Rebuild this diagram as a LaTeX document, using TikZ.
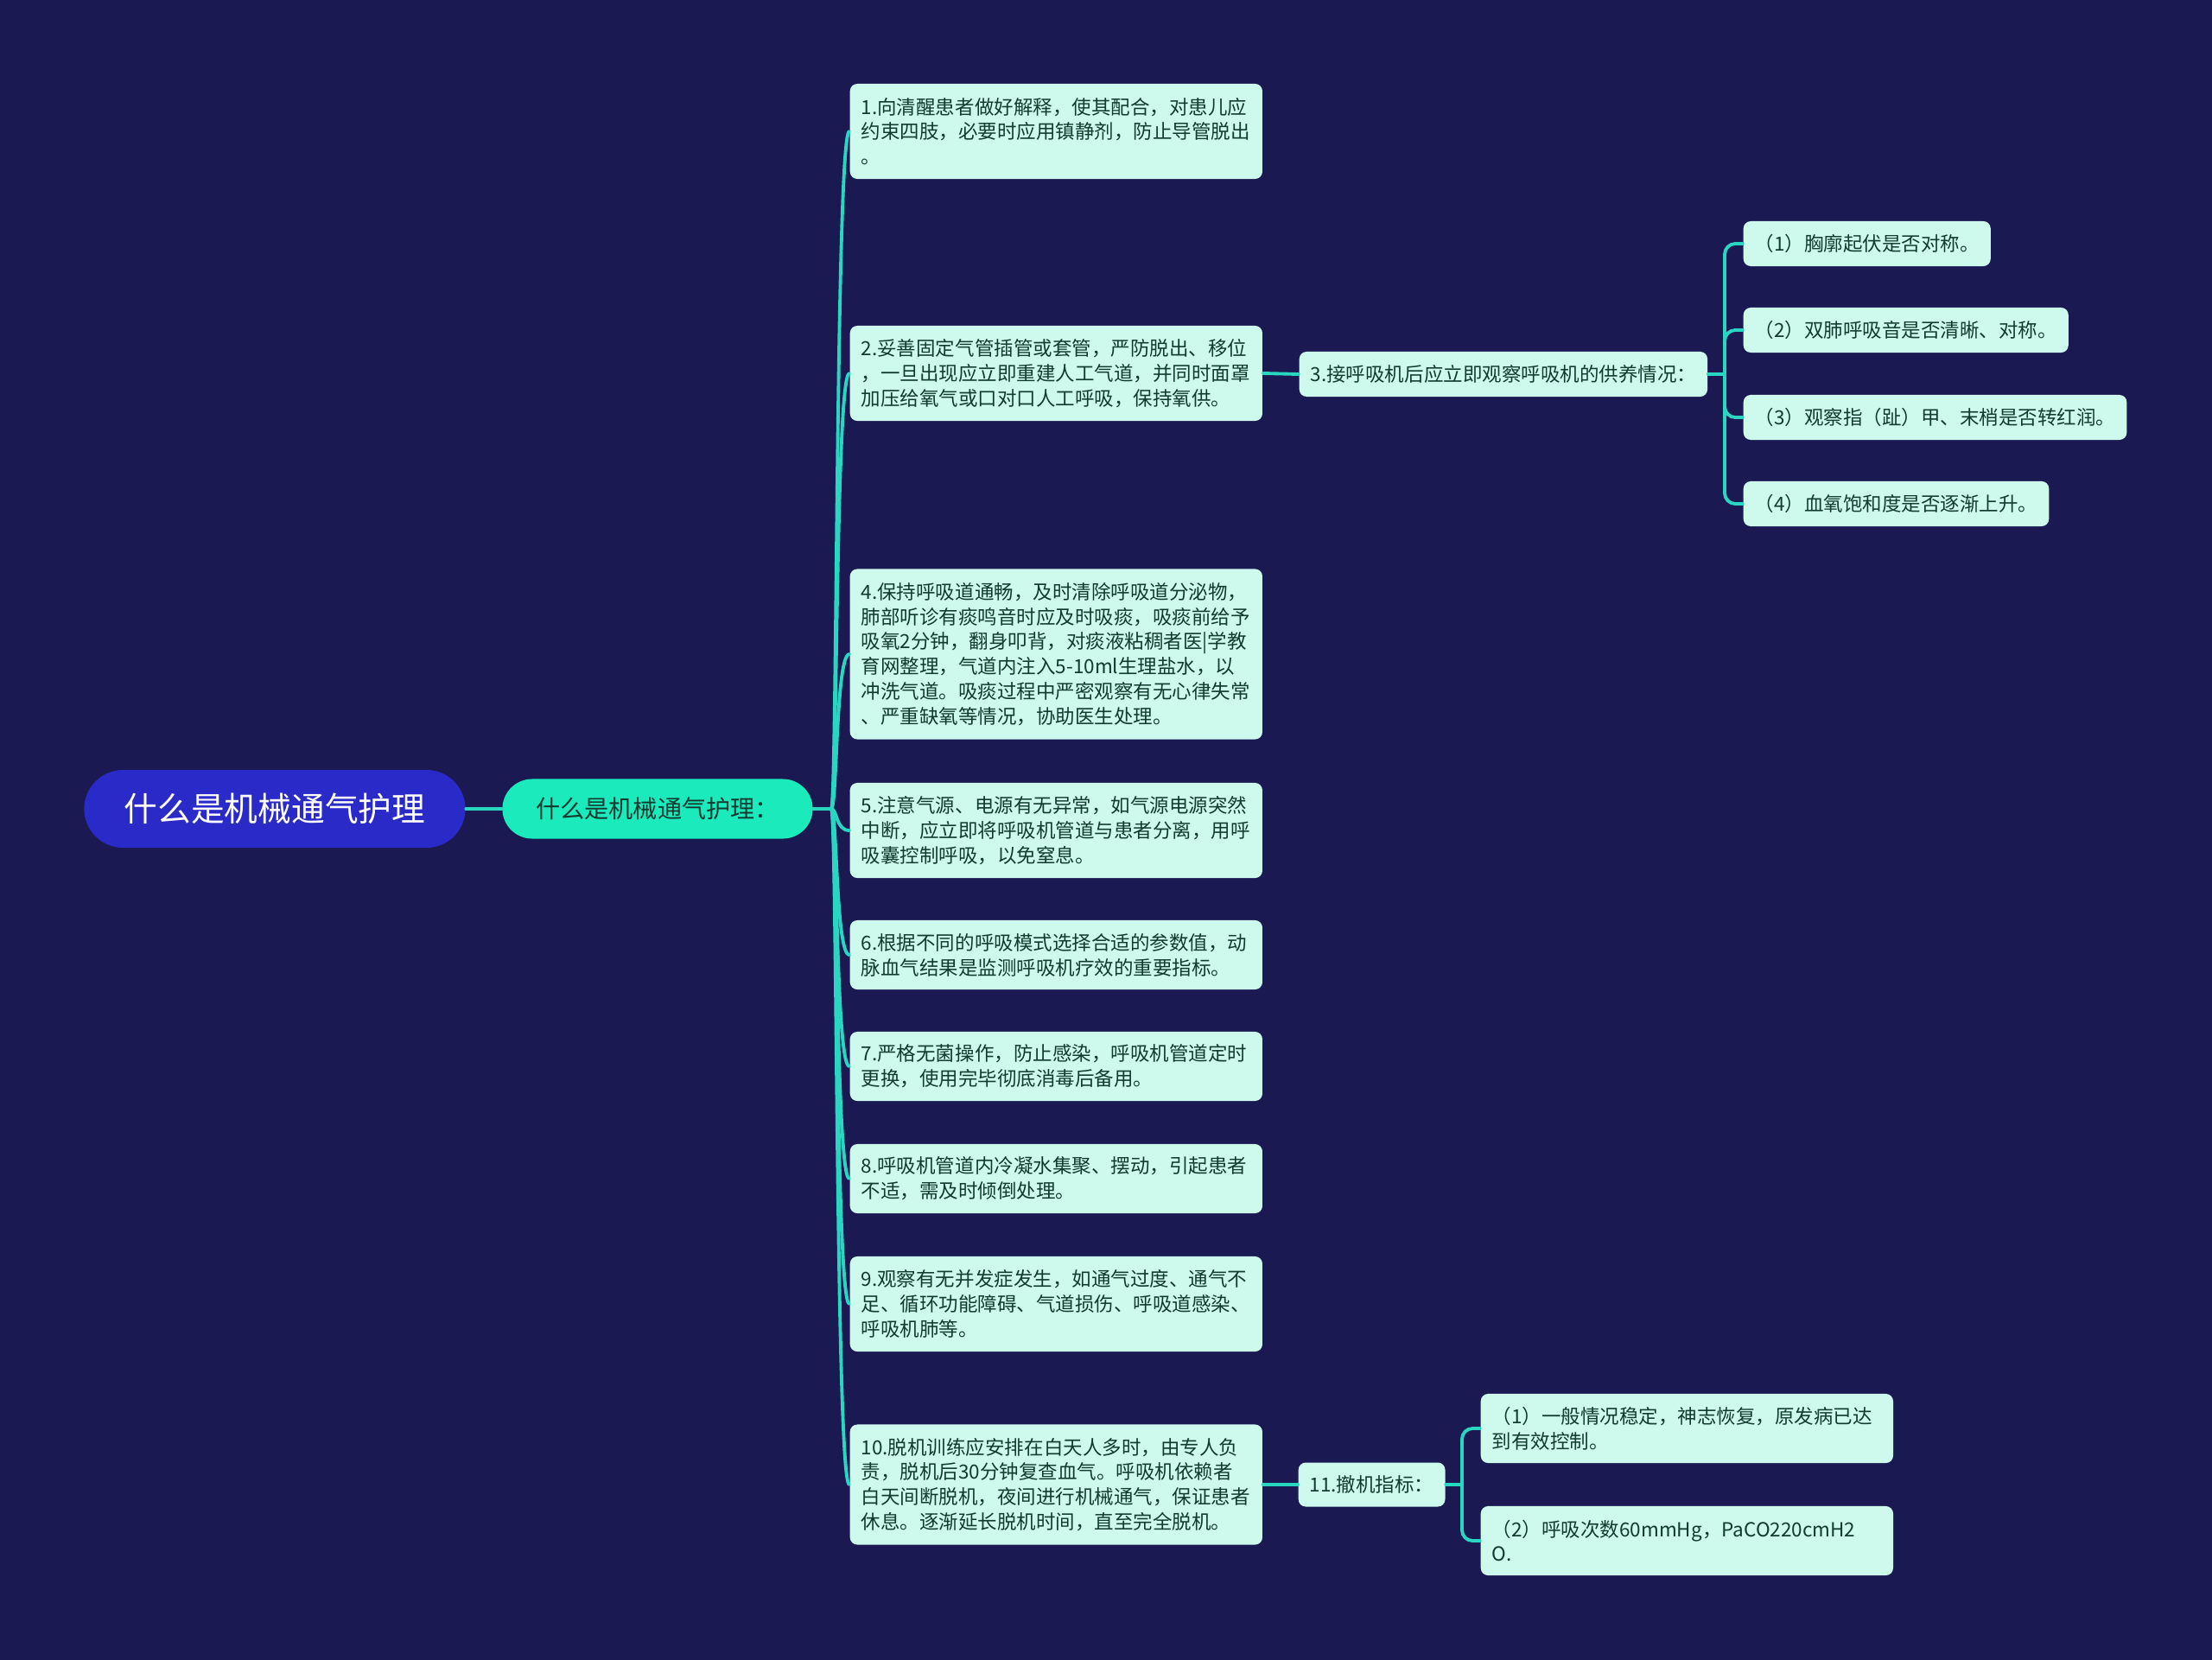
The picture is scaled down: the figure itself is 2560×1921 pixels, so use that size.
\documentclass[tikz,border=0pt]{standalone}
\usepackage{fontspec}
\setmainfont{Noto Sans CJK SC}

\definecolor{bgnavy}{RGB}{27,25,82}
\definecolor{rootblue}{RGB}{42,42,200}
\definecolor{mainteal}{RGB}{26,234,188}
\definecolor{leaffill}{RGB}{206,250,238}
\definecolor{leaftext}{RGB}{18,58,47}
\definecolor{linkteal}{RGB}{40,214,194}

\begin{document}
\begin{tikzpicture}[
  x=0.01cm,
  y=-0.01cm,
  line cap=round,
  line join=round,
  link/.style={draw=linkteal,line width=1.1pt},
  leafbox/.style={
    fill=leaffill,
    text=leaftext,
    rounded corners=2.4pt,
    font=\fontsize{6.4}{8.2}\selectfont,
    align=left,
    inner xsep=0.13cm,
    inner ysep=0pt,
    anchor=west
  },
  widebox/.style={leafbox,text width=4.51cm}
]
  % Фон
  \fill[bgnavy] (0,0) rectangle (2560,1921);
  \useasboundingbox (0,0) rectangle (2560,1921);

  % Корень
  \node[
    fill=rootblue,
    text=white,
    rounded corners=0.45cm,
    minimum width=4.41cm,
    minimum height=0.90cm,
    font=\fontsize{11}{13}\selectfont
  ] (root) at (318,936) {什么是机械通气护理};

  \node[
    fill=mainteal,
    text=leaftext,
    rounded corners=0.345cm,
    minimum width=3.59cm,
    minimum height=0.69cm,
    font=\fontsize{8}{10}\selectfont
  ] (care) at (761,936) {什么是机械通气护理：};

  \draw[link] (root.east) -- (care.west);
  \coordinate (hub) at (962,936);
  \draw[link] (care.east) -- (hub);

  % Пункты 1--10
  \node[widebox,minimum height=1.10cm] (p1) at (983,152) {%
    1.向清醒患者做好解释，使其配合，对患儿应\\
    约束四肢，必要时应用镇静剂，防止导管脱出\\
    。};
  \node[widebox,minimum height=1.10cm] (p2) at (983,432) {%
    2.妥善固定气管插管或套管，严防脱出、移位\\
    ，一旦出现应立即重建人工气道，并同时面罩\\
    加压给氧气或口对口人工呼吸，保持氧供。};
  \node[widebox,minimum height=1.97cm] (p4) at (983,757) {%
    4.保持呼吸道通畅，及时清除呼吸道分泌物，\\
    肺部听诊有痰鸣音时应及时吸痰，吸痰前给予\\
    吸氧2分钟，翻身叩背，对痰液粘稠者医|学教\\
    育网整理，气道内注入5-10ml生理盐水，以\\
    冲洗气道。吸痰过程中严密观察有无心律失常\\
    、严重缺氧等情况，协助医生处理。};
  \node[widebox,minimum height=1.10cm] (p5) at (983,961) {%
    5.注意气源、电源有无异常，如气源电源突然\\
    中断，应立即将呼吸机管道与患者分离，用呼\\
    吸囊控制呼吸，以免窒息。};
  \node[widebox,minimum height=0.80cm] (p6) at (983,1105) {%
    6.根据不同的呼吸模式选择合适的参数值，动\\
    脉血气结果是监测呼吸机疗效的重要指标。};
  \node[widebox,minimum height=0.80cm] (p7) at (983,1234) {%
    7.严格无菌操作，防止感染，呼吸机管道定时\\
    更换，使用完毕彻底消毒后备用。};
  \node[widebox,minimum height=0.80cm] (p8) at (983,1364) {%
    8.呼吸机管道内冷凝水集聚、摆动，引起患者\\
    不适，需及时倾倒处理。};
  \node[widebox,minimum height=1.10cm] (p9) at (983,1509) {%
    9.观察有无并发症发生，如通气过度、通气不\\
    足、循环功能障碍、气道损伤、呼吸道感染、\\
    呼吸机肺等。};
  \node[widebox,minimum height=1.39cm] (p10) at (983,1718) {%
    10.脱机训练应安排在白天人多时，由专人负\\
    责，脱机后30分钟复查血气。呼吸机依赖者\\
    白天间断脱机，夜间进行机械通气，保证患者\\
    休息。逐渐延长脱机时间，直至完全脱机。};

  \foreach \n in {p1,p2,p4,p5,p6,p7,p8,p9,p10}
    \draw[link] (hub) .. controls +(7,0) and +(-16,0) .. (\n.west);

  % Пункт 3
  \node[leafbox,minimum height=0.52cm] (p3) at (1503,433)
    {3.接呼吸机后应立即观察呼吸机的供养情况：};
  \draw[link] (p2.east) -- (p3.west);

  \node[leafbox,minimum height=0.52cm] (s1) at (2017,282)
    {（1）胸廓起伏是否对称。};
  \node[leafbox,minimum height=0.52cm] (s2) at (2017,382)
    {（2）双肺呼吸音是否清晰、对称。};
  \node[leafbox,minimum height=0.52cm] (s3) at (2017,483)
    {（3）观察指（趾）甲、末梢是否转红润。};
  \node[leafbox,minimum height=0.52cm] (s4) at (2017,583)
    {（4）血氧饱和度是否逐渐上升。};

  \coordinate (j3) at (1996,433);
  \draw[link] (p3.east) -- (j3);
  \foreach \n in {s1,s2,s3,s4}
    \draw[link,rounded corners=3.5pt] (j3) |- (\n.west);

  % Пункт 11
  \node[leafbox,minimum height=0.51cm] (p11) at (1502,1718)
    {11.撤机指标：};
  \draw[link] (p10.east) -- (p11.west);

  \node[widebox,minimum height=0.80cm] (w1) at (1713,1653) {%
    （1）一般情况稳定，神志恢复，原发病已达\\
    到有效控制。};
  \node[widebox,minimum height=0.80cm] (w2) at (1713,1783) {%
    （2）呼吸次数60mmHg，PaCO220cmH2\\
    O.};

  \coordinate (j11) at (1692,1718);
  \draw[link] (p11.east) -- (j11);
  \foreach \n in {w1,w2}
    \draw[link,rounded corners=3.5pt] (j11) |- (\n.west);
\end{tikzpicture}
\end{document}
